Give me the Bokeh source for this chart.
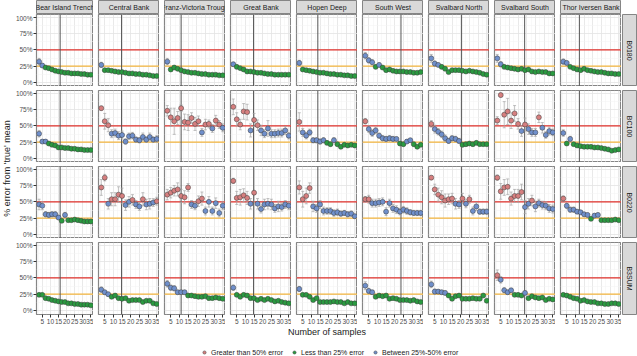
import math
from bokeh.plotting import figure
from bokeh.models import (Range1d, FixedTicker, NumeralTickFormatter, ColumnDataSource,
                          Whisker, TeeHead, Span, Legend, LegendItem)
from bokeh.layouts import gridplot, row, column
from bokeh.embed import file_html
from bokeh.resources import INLINE
from bokeh.core.properties import value

# ---------------- data ----------------
SITES = ["Bear Island Trench", "Central Bank", "Franz-Victoria Trough", "Great Bank",
         "Hopen Deep", "South West", "Svalbard North", "Svalbard South", "Thor Iversen Bank"]
GROUPS = ["B0180", "BC100", "B0220", "B3SUM"]
N_SAMPLES = [3, 5, 7, 9, 11, 13, 15, 17, 19, 21, 23, 25, 27, 29, 31, 33, 35]
VLINE = [16, 14.7, 11, 14.7, 13.7, 23.6, 20.5, 18.8, 12.3]
X_TICKS = [5, 10, 15, 20, 25, 30, 35]
Y_TICKS = [0, 0.25, 0.5, 0.75, 1.0]
LEGEND_LABELS = ["Greater than 50% error", "Less than 25% error", "Between 25%-50% error"]

# % error from 'true' mean, one list per site (order of SITES)
B0180 = [
    [32, 26, 23, 22, 20, 18, 17, 16, 15, 15, 14, 14, 14, 13, 13, 12, 12],
    [27, 19, 19, 18, 17, 16, 16, 15, 14, 14, 13, 13, 12, 12, 11, 10, 10],
    [32, 20, 23, 21, 19, 17, 16, 15, 15, 14, 13, 13, 12, 12, 12, 11, 11],
    [28, 24, 22, 20, 17, 17, 16, 15, 15, 14, 13, 13, 12, 12, 12, 12, 12],
    [30, 20, 19, 18, 17, 16, 15, 15, 14, 13, 13, 12, 12, 11, 11, 10, 10],
    [41, 34, 31, 24, 27, 23, 19, 20, 18, 17, 17, 17, 16, 16, 15, 15, 16],
    [37, 29, 27, 24, 21, 16, 19, 19, 19, 18, 17, 18, 17, 16, 15, 13, 12],
    [37, 28, 24, 23, 22, 21, 20, 21, 19, 20, 17, 16, 17, 16, 16, 14, 14],
    [32, 30, 24, 22, 20, 19, 21, 19, 18, 17, 16, 16, 15, 14, 14, 13, 13],
]
BC100 = [
    [38, 26, 26, 23, 21, 20, 17, 17, 16, 16, 15, 15, 14, 14, 13, 13, 13],
    [77, 57, 51, 38, 39, 35, 36, 26, 34, 35, 29, 28, 33, 29, 33, 29, 30],
    [73, 63, 57, 62, 77, 56, 55, 62, 53, 57, 40, 52, 53, 46, 58, 52, 47],
    [79, 60, 52, 72, 71, 43, 59, 51, 43, 38, 46, 38, 38, 39, 39, 43, 35],
    [56, 40, 35, 40, 28, 28, 26, 28, 24, 22, 28, 22, 18, 21, 20, 21, 20],
    [57, 45, 39, 43, 35, 31, 30, 31, 30, 30, 23, 22, 26, 28, 22, 18, 21],
    [53, 45, 41, 37, 31, 27, 31, 30, 27, 21, 22, 23, 22, 24, 22, 22, 22],
    [58, 97, 67, 72, 58, 69, 53, 42, 52, 45, 40, 40, 63, 47, 36, 42, 40],
    [39, 23, 30, 22, 20, 19, 18, 18, 18, 17, 17, 16, 15, 14, 12, 13, 14],
]
B0220 = [
    [46, 44, 31, 30, 31, 31, 26, 21, 30, 22, 22, 23, 22, 21, 20, 20, 20],
    [72, 87, 47, 54, 54, 61, 59, 45, 50, 53, 46, 43, 54, 46, 47, 49, 51],
    [61, 64, 67, 69, 59, 57, 72, 46, 44, 51, 55, 36, 50, 36, 48, 33, 44],
    [82, 56, 57, 60, 56, 47, 64, 47, 39, 46, 47, 46, 40, 43, 42, 46, 44],
    [72, 54, 59, 71, 43, 40, 46, 36, 36, 36, 33, 34, 32, 33, 31, 32, 28],
    [54, 54, 48, 48, 49, 50, 35, 48, 40, 38, 35, 38, 36, 34, 33, 33, 33],
    [87, 69, 61, 57, 52, 54, 55, 47, 46, 55, 47, 54, 36, 43, 35, 35, 35],
    [87, 66, 72, 73, 55, 59, 59, 65, 42, 47, 52, 43, 48, 45, 44, 40, 39],
    [55, 44, 38, 38, 35, 34, 31, 30, 24, 29, 30, 22, 22, 22, 22, 23, 22],
]
B3SUM = [
    [24, 24, 19, 18, 16, 15, 14, 13, 13, 11, 11, 10, 10, 9, 9, 9, 8],
    [32, 28, 25, 21, 23, 19, 18, 19, 15, 16, 16, 16, 13, 15, 15, 11, 10],
    [41, 35, 34, 28, 28, 28, 23, 23, 22, 21, 21, 22, 19, 19, 20, 19, 18],
    [35, 24, 21, 24, 23, 19, 19, 16, 18, 16, 18, 16, 14, 15, 13, 12, 11],
    [33, 24, 24, 21, 16, 19, 13, 13, 13, 13, 14, 13, 13, 11, 13, 11, 11],
    [38, 30, 28, 21, 23, 22, 23, 18, 19, 18, 16, 16, 16, 15, 16, 14, 13],
    [40, 29, 29, 28, 27, 23, 18, 22, 23, 18, 18, 18, 19, 18, 18, 23, 15],
    [54, 47, 31, 28, 31, 24, 24, 23, 27, 19, 22, 20, 19, 20, 16, 18, 17],
    [24, 23, 21, 19, 18, 15, 16, 14, 13, 13, 11, 11, 10, 10, 11, 11, 10],
]

# half-width of the error bars (percentage points)
B0180_ERR = [
    [5, 3, 2, 2, 2, 2, 1, 1, 1, 1, 1, 1, 1, 1, 1, 1, 1],
    [4, 2, 2, 2, 2, 1, 1, 1, 1, 1, 1, 1, 1, 1, 1, 1, 1],
    [5, 3, 3, 2, 2, 2, 1, 1, 1, 1, 1, 1, 1, 1, 1, 1, 1],
    [3, 3, 2, 2, 2, 1, 1, 1, 1, 1, 1, 1, 1, 1, 1, 1, 1],
    [4, 2, 2, 2, 2, 1, 1, 1, 1, 1, 1, 1, 1, 1, 1, 1, 1],
    [5, 4, 4, 3, 3, 2, 2, 2, 2, 2, 2, 1, 1, 1, 1, 1, 1],
    [6, 4, 3, 3, 2, 2, 2, 2, 2, 2, 1, 1, 1, 1, 1, 1, 1],
    [6, 4, 3, 2, 2, 2, 2, 2, 2, 2, 1, 1, 1, 1, 1, 1, 1],
    [4, 3, 2, 2, 2, 2, 2, 1, 1, 1, 1, 1, 1, 1, 1, 1, 1],
]
BC100_ERR = [
    [5, 3, 3, 2, 2, 2, 1, 1, 1, 1, 1, 1, 1, 1, 1, 1, 1],
    [3, 12, 10, 6, 6, 6, 6, 4, 5, 5, 4, 4, 6, 4, 6, 4, 5],
    [8, 14, 20, 10, 5, 12, 12, 8, 10, 8, 6, 8, 6, 6, 8, 6, 6],
    [12, 10, 8, 12, 12, 10, 10, 8, 8, 6, 12, 6, 6, 6, 6, 6, 5],
    [14, 6, 5, 5, 4, 4, 4, 4, 3, 3, 4, 3, 2, 2, 2, 2, 2],
    [4, 5, 5, 5, 4, 4, 4, 4, 4, 3, 3, 3, 3, 3, 3, 2, 2],
    [5, 6, 5, 5, 5, 4, 4, 4, 4, 3, 3, 3, 3, 3, 2, 2, 2],
    [6, 3, 20, 20, 12, 12, 8, 8, 10, 8, 6, 6, 8, 8, 5, 6, 5],
    [5, 3, 4, 2, 2, 2, 2, 2, 1, 1, 1, 1, 1, 1, 1, 1, 1],
]
B0220_ERR = [
    [8, 6, 4, 4, 4, 4, 3, 2, 4, 2, 2, 2, 2, 2, 2, 2, 2],
    [12, 5, 8, 10, 10, 12, 12, 8, 8, 8, 6, 6, 10, 8, 8, 6, 6],
    [8, 8, 8, 10, 10, 10, 6, 6, 6, 8, 10, 6, 8, 6, 8, 6, 6],
    [4, 10, 12, 10, 10, 8, 40, 8, 6, 8, 8, 8, 6, 8, 6, 6, 6],
    [10, 12, 12, 8, 8, 6, 6, 6, 5, 5, 5, 5, 4, 4, 4, 4, 3],
    [4, 6, 6, 6, 6, 6, 6, 6, 6, 6, 5, 5, 5, 4, 4, 4, 4],
    [3, 8, 10, 10, 10, 8, 8, 8, 6, 8, 6, 6, 6, 6, 4, 4, 4],
    [4, 12, 12, 12, 10, 10, 10, 12, 10, 8, 8, 8, 6, 6, 6, 6, 6],
    [4, 4, 4, 4, 3, 3, 3, 3, 2, 3, 3, 2, 2, 2, 2, 2, 2],
]
B3SUM_ERR = [
    [2, 2, 2, 1, 1, 1, 1, 1, 1, 1, 1, 1, 1, 1, 1, 1, 1],
    [4, 3, 3, 2, 2, 2, 2, 2, 1, 1, 1, 1, 1, 1, 1, 1, 1],
    [5, 4, 4, 3, 3, 3, 2, 2, 2, 2, 2, 2, 1, 1, 1, 1, 1],
    [4, 2, 2, 2, 2, 2, 2, 1, 1, 1, 1, 1, 1, 1, 1, 1, 1],
    [4, 2, 2, 2, 2, 2, 1, 1, 1, 1, 1, 1, 1, 1, 1, 1, 1],
    [6, 4, 3, 2, 2, 2, 2, 2, 2, 2, 1, 1, 1, 1, 1, 1, 1],
    [5, 4, 3, 3, 3, 2, 2, 2, 2, 2, 2, 2, 2, 1, 1, 1, 1],
    [8, 5, 4, 3, 3, 2, 2, 2, 3, 2, 2, 2, 2, 2, 1, 1, 1],
    [2, 2, 2, 1, 1, 1, 1, 1, 1, 1, 1, 1, 1, 1, 1, 1, 1],
]

VALUES = [B0180, BC100, B0220, B3SUM]
ERRORS = [B0180_ERR, BC100_ERR, B0220_ERR, B3SUM_ERR]

# ---------------- style ----------------
FONT = "Liberation Sans"
RED, GREEN, BLUE = "#D67F7F", "#2A9A40", "#6F8FCB"
PT_LINE = "#3A3A3A"
BORDER = "#858585"
PANEL_W, PANEL_H = 61, 72
BOTTOM_AX = 12


def category_color(v):
    if v > 50:
        return RED
    if v < 25:
        return GREEN
    return BLUE


def base_fig(w, h, xr, yr, left=0, right=0, top=0, bottom=0):
    p = figure(width=w, height=h, x_range=xr, y_range=yr, output_backend="svg",
               toolbar_location=None, min_border_left=left, min_border_right=right,
               min_border_top=top, min_border_bottom=bottom)
    p.border_fill_color = "white"
    return p


def make_panel(gi, si):
    first = si == 0
    last = gi == 3
    left = 20 if first else 5
    top = 0 if gi == 0 else 4
    bottom = BOTTOM_AX if last else 0
    p = base_fig(left + PANEL_W, top + PANEL_H + bottom, Range1d(1.4, 36.6), Range1d(-0.06, 1.04),
                 left=left, top=top, bottom=bottom)
    p.outline_line_color = BORDER
    p.outline_line_width = 1.2
    p.background_fill_color = "white"

    xt = FixedTicker(ticks=X_TICKS, minor_ticks=[t - 2.5 for t in X_TICKS])
    yt = FixedTicker(ticks=Y_TICKS, minor_ticks=[t + 0.125 for t in Y_TICKS[:-1]])
    p.xaxis.ticker = xt
    p.yaxis.ticker = yt
    p.xgrid.ticker = xt
    p.ygrid.ticker = yt
    p.grid.grid_line_color = "#E3E3E3"
    p.grid.grid_line_width = 0.8
    p.grid.minor_grid_line_color = "#F2F2F2"
    p.grid.minor_grid_line_width = 0.5

    p.yaxis.visible = first
    p.xaxis.visible = last
    p.axis.axis_line_color = None
    p.axis.major_tick_line_color = "#333333"
    p.axis.major_tick_out = 3
    p.axis.major_tick_in = 0
    p.axis.minor_tick_out = 0
    p.axis.minor_tick_in = 0
    p.axis.major_label_text_font = FONT
    p.axis.major_label_text_font_size = "6.5px"
    p.axis.major_label_text_color = "#4D4D4D"
    p.axis.major_label_standoff = 1
    p.yaxis.formatter = NumeralTickFormatter(format="0%")

    for loc, col in [(0.25, "#F4B63F"), (0.5, "#E0302B")]:
        p.add_layout(Span(location=loc, dimension="width", line_color=col,
                          line_width=1.3, level="underlay"))
    p.add_layout(Span(location=VLINE[si], dimension="height", line_color="#555555",
                      line_width=1, level="underlay"))

    vals = VALUES[gi][si]
    errs = ERRORS[gi][si]
    src = ColumnDataSource(dict(
        x=N_SAMPLES,
        y=[v / 100 for v in vals],
        lo=[(v - e) / 100 for v, e in zip(vals, errs)],
        hi=[(v + e) / 100 for v, e in zip(vals, errs)],
        color=[category_color(v) for v in vals],
    ))
    wcol = "#A6A6A6"
    p.add_layout(Whisker(source=src, base="x", upper="hi", lower="lo", line_color=wcol,
                         line_width=0.7, level="underlay",
                         upper_head=TeeHead(size=3, line_color=wcol, line_width=0.7),
                         lower_head=TeeHead(size=3, line_color=wcol, line_width=0.7)))
    p.scatter("x", "y", source=src, size=5, fill_color="color", line_color=PT_LINE,
              line_width=0.5)
    return p


def strip_top(si):
    left = 20 if si == 0 else 5
    p = base_fig(left + PANEL_W, 14, Range1d(0, 1), Range1d(0, 1), left=left)
    p.axis.visible = False
    p.grid.visible = False
    p.background_fill_color = "#D9D9D9"
    p.outline_line_color = BORDER
    p.text(x=[0.5], y=[0.5], text=[SITES[si]], text_align="center", text_baseline="middle",
           text_font=value(FONT), text_font_size="7px", text_color="#1A1A1A")
    return p


def strip_right(gi):
    top = 0 if gi == 0 else 4
    bottom = BOTTOM_AX if gi == 3 else 0
    p = base_fig(16, top + PANEL_H + bottom, Range1d(0, 1), Range1d(0, 1),
                 left=1, right=1, top=top, bottom=bottom)
    p.axis.visible = False
    p.grid.visible = False
    p.background_fill_color = "#D9D9D9"
    p.outline_line_color = BORDER
    p.text(x=[0.5], y=[0.5], text=[GROUPS[gi]], angle=-math.pi / 2, text_align="center",
           text_baseline="middle", text_font=value(FONT), text_font_size="7px",
           text_color="#1A1A1A")
    return p


rows = [[strip_top(si) for si in range(9)] + [None]]
for gi in range(4):
    rows.append([make_panel(gi, si) for si in range(9)] + [strip_right(gi)])
grid = gridplot(rows, toolbar_location=None)

GRID_H = 14 + PANEL_H + 3 * (PANEL_H + 4) + BOTTOM_AX

ylab = base_fig(12, GRID_H, Range1d(0, 12), Range1d(0, GRID_H))
ylab.axis.visible = False
ylab.grid.visible = False
ylab.outline_line_color = None
ylab.text(x=[6], y=[GRID_H - 168], text=["% error from 'true' mean"], angle=math.pi / 2,
          text_align="center", text_baseline="middle", text_font=value(FONT),
          text_font_size="9px", text_color="#1A1A1A")

BOT_H = 356 - GRID_H
bot = base_fig(637, BOT_H, Range1d(0, 637), Range1d(0, BOT_H))
bot.axis.visible = False
bot.grid.visible = False
bot.outline_line_color = None
bot.text(x=[326.5], y=[BOT_H - 5], text=["Number of samples"], text_align="center",
         text_baseline="middle", text_font=value(FONT), text_font_size="9px",
         text_color="#1A1A1A")
items = []
nan = float("nan")
for lab, col in zip(LEGEND_LABELS, [RED, GREEN, BLUE]):
    r = bot.scatter(x=[nan], y=[nan], size=5, fill_color=col, line_color=PT_LINE,
                    line_width=0.5)
    items.append(LegendItem(label=lab, renderers=[r]))
legend = Legend(items=items, orientation="horizontal", location=(199, 0),
                glyph_width=10, glyph_height=8, label_standoff=2, spacing=6, padding=0,
                margin=0, border_line_color=None, background_fill_alpha=0,
                label_text_font=FONT, label_text_font_size="7px",
                label_text_color="#1A1A1A", label_height=8)
bot.add_layout(legend)

layout = column(row(ylab, grid), bot)

with open("out.html", "w") as f:
    f.write(file_html(layout, INLINE))
